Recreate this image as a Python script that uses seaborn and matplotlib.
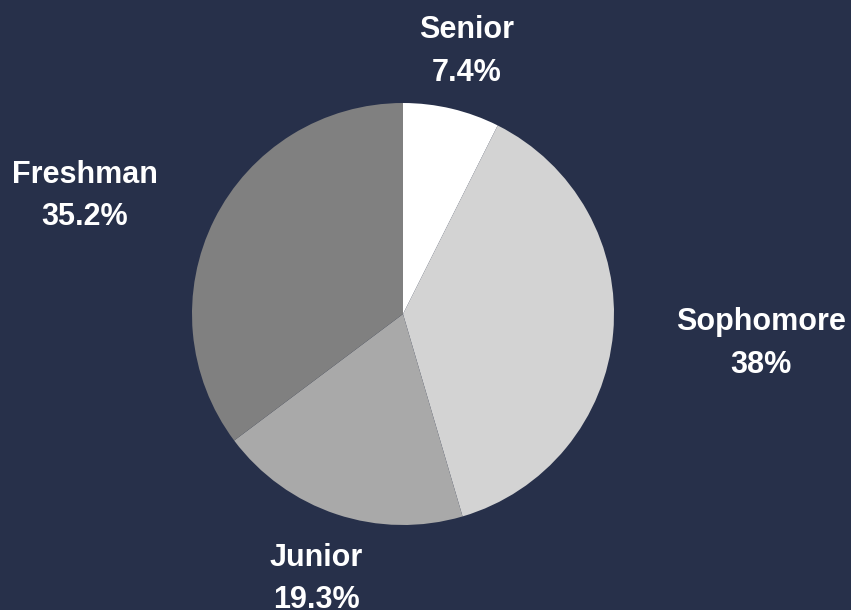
import numpy as np
import seaborn as sns
import matplotlib.pyplot as plt

# class standing shares (%), clockwise from 12 o'clock
classes = ["Senior", "Sophomore", "Junior", "Freshman"]
shares = [7.4, 38.0, 19.3, 35.2]
share_labels = ["7.4%", "38%", "19.3%", "35.2%"]
slice_colors = ["#ffffff", "#d3d3d3", "#a9a9a9", "#808080"]

bg = "#27304a"
sns.set_style("white")
plt.rcParams["font.family"] = ["Liberation Sans", "DejaVu Sans"]

fig = plt.figure(figsize=(8.51, 6.10), dpi=100, facecolor=bg)
ax = fig.add_axes([192 / 851, 85 / 610, 422 / 851, 422 / 610])
ax.set_facecolor(bg)

wedges, _ = ax.pie(shares, colors=slice_colors, startangle=90, counterclock=False,
                   radius=1.0, wedgeprops={"linewidth": 0})
ax.set_xlim(-1, 1)
ax.set_ylim(-1, 1)
ax.set_aspect("equal")
ax.axis("off")

# outside labels at 1.3 radius along each wedge's mid angle
for w, name, lab in zip(wedges, classes, share_labels):
    ang = np.deg2rad((w.theta1 + w.theta2) / 2)
    x, y = 1.3 * np.cos(ang), 1.3 * np.sin(ang) - 0.022
    if abs(np.cos(ang)) < 0.5:
        ha = "center"
    else:
        ha = "left" if x > 0 else "right"
    ax.text(x, y, f"{name}\n{lab}", ha=ha, va="center", multialignment="center",
            color="white", fontsize=22, fontweight="bold", linespacing=1.55,
            clip_on=False)

fig.savefig("out.png", dpi=100, facecolor=bg)
